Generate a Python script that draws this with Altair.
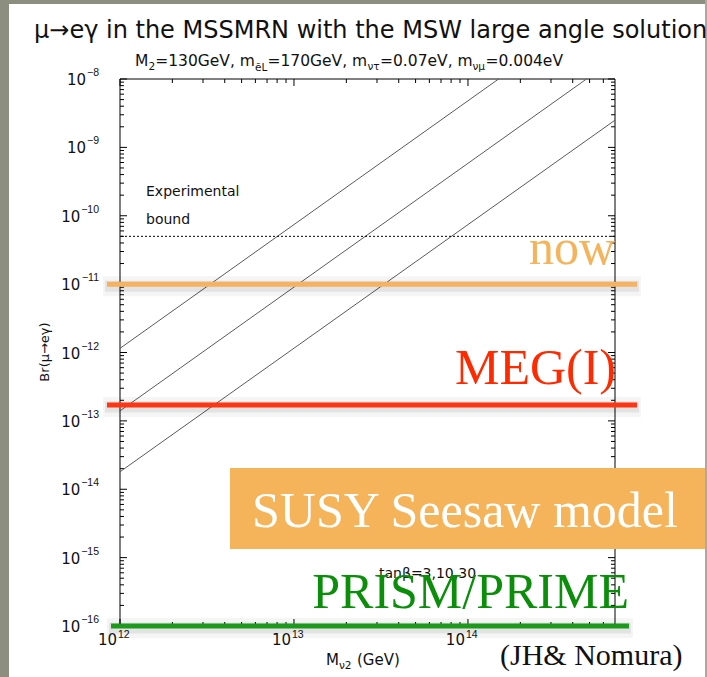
import altair as alt
import pandas as pd

W, H = 495, 547
SANS = "DejaVu Sans"
EXP_FONT = "Liberation Sans"
SERIF = "Liberation Serif"

# Br(mu -> e gamma) versus M_nu2, one straight log-log line per tan(beta)
curve_names = ["tanβ=30", "tanβ=10", "tanβ=3"]
curve_m_start = [1e12, 1e12, 1e12]
curve_br_start = [1.15e-12, 1.4e-13, 1.8e-14]
curve_m_end = [1.5e14, 4.8e14, 7e14]
curve_br_end = [1e-8, 1e-8, 2.5e-9]

# experimental bound (dotted) and sensitivity levels (thick coloured lines)
exp_bound = [5e-11]
limit_names = ["now", "MEG(I)", "PRISM/PRIME"]
limit_values = [1e-11, 1.7e-13, 1e-16]
limit_colors = ["#f4b262", "#ff3614", "#1d9a1d"]
limit_text_colors = ["#f5b35c", "#ff2a00", "#0b8f0b"]

# axes
x_domain = [1e12, 7e14]
y_domain = [1e-16, 1e-8]
x_major = [1e12, 1e13, 1e14]
x_major_exp = ["12", "13", "14"]
x_minor = [k * 1e12 for k in range(2, 10)] + [k * 1e13 for k in range(2, 10)] + [k * 1e14 for k in range(2, 7)]
y_major = [1e-16, 1e-15, 1e-14, 1e-13, 1e-12, 1e-11, 1e-10, 1e-9, 1e-8]
y_major_exp = ["−16", "−15", "−14", "−13", "−12", "−11", "−10", "−9", "−8"]
y_minor = [k * 10.0 ** e for e in range(-16, -8) for k in range(2, 10)]

xs = alt.Scale(type="log", domain=x_domain, nice=False)
ys = alt.Scale(type="log", domain=y_domain, nice=False)


def X(field):
    return alt.X(f"{field}:Q", scale=xs, axis=None)


def Y(field):
    return alt.Y(f"{field}:Q", scale=ys, axis=None)


one = pd.DataFrame({"a": [0]})

# ---- slide background
bg_gray = "#8c8f80"
left_strip = alt.Chart(one).mark_rect(color=bg_gray).encode(
    x=alt.value(-120), x2=alt.value(-111), y=alt.value(-79), y2=alt.value(598))
top_strip = alt.Chart(one).mark_rect(color=bg_gray).encode(
    x=alt.value(-120), x2=alt.value(587), y=alt.value(-79), y2=alt.value(-75))
right_strip = alt.Chart(one).mark_rect(color="#a9aba0").encode(
    x=alt.value(585), x2=alt.value(587), y=alt.value(-79), y2=alt.value(598))

# ---- titles
title = alt.Chart(one).mark_text(
    text="μ→eγ in the MSSMRN with the MSW large angle solution",
    font=SANS, fontSize=24, align="left", baseline="alphabetic", color="#111").encode(
    x=alt.value(-86), y=alt.value(-41))


def piece(txt, x, y, size):
    return alt.Chart(one).mark_text(
        text=txt, font=SANS, fontSize=size, align="left", baseline="alphabetic",
        color="#111").encode(x=alt.value(x), y=alt.value(y))


sub_y, main_y = -9, -13
subtitle = [
    piece("M", 15, main_y, 15.5), piece("2", 28.4, sub_y, 10.5),
    piece("=130GeV, m", 35.2, main_y, 15.5), piece("ẽL", 135, sub_y + 1, 10.5),
    piece("=170GeV, m", 147.5, main_y, 15.5), piece("ντ", 247.5, sub_y, 10.5),
    piece("=0.07eV, m", 260, main_y, 15.5), piece("νμ", 352.5, sub_y, 10.5),
    piece("=0.004eV", 365.5, main_y, 15.5),
]

x_title = [
    piece("M", 206, 586, 15), piece("ν2", 219, 590, 10.5), piece("(GeV)", 237, 586, 15),
]
y_title = alt.Chart(one).mark_text(
    text="Br(μ→eγ)", font=SANS, fontSize=13, angle=270, align="center",
    baseline="middle", color="#111").encode(x=alt.value(-75), y=alt.value(273))

# ---- frame and inward ticks
frame = [
    alt.Chart(one).mark_rule(color="#000", strokeWidth=1).encode(
        x=alt.value(0), x2=alt.value(W), y=alt.value(0)),
    alt.Chart(one).mark_rule(color="#000", strokeWidth=1).encode(
        x=alt.value(0), x2=alt.value(W), y=alt.value(H)),
    alt.Chart(one).mark_rule(color="#000", strokeWidth=1).encode(
        x=alt.value(0), y=alt.value(0), y2=alt.value(H)),
    alt.Chart(one).mark_rule(color="#000", strokeWidth=1).encode(
        x=alt.value(W), y=alt.value(0), y2=alt.value(H)),
]

ym = pd.DataFrame({"y": y_major, "exp": y_major_exp})
yn = pd.DataFrame({"y": y_minor})
xm = pd.DataFrame({"x": x_major, "exp": x_major_exp})
xn = pd.DataFrame({"x": x_minor})

ticks = []
for df, ln in [(ym, 7), (yn, 4)]:
    ticks.append(alt.Chart(df).mark_rule(color="#000", strokeWidth=1).encode(
        y=Y("y"), x=alt.value(0), x2=alt.value(ln)))
    ticks.append(alt.Chart(df).mark_rule(color="#000", strokeWidth=1).encode(
        y=Y("y"), x=alt.value(W), x2=alt.value(W - ln)))
for df, ln in [(xm, 7), (xn, 4)]:
    ticks.append(alt.Chart(df).mark_rule(color="#000", strokeWidth=1).encode(
        x=X("x"), y=alt.value(H), y2=alt.value(H - ln)))
    ticks.append(alt.Chart(df).mark_rule(color="#000", strokeWidth=1).encode(
        x=X("x"), y=alt.value(0), y2=alt.value(ln)))

# y tick labels: "10" plus a raised exponent, the pair right-aligned
y_exp = alt.Chart(ym).mark_text(
    font=EXP_FONT, fontSize=10.5, align="right", baseline="middle", color="#111", dy=-6).encode(
    y=Y("y"), x=alt.value(-21), text="exp:N")
y_base = alt.Chart(ym).transform_calculate(
    px="-22 - 6.1 - 5.8 * (length(datum.exp) - 1)", base="'10'").mark_text(
    font=SANS, fontSize=15, align="right", baseline="middle", color="#111", dy=1).encode(
    y=Y("y"), x=alt.X("px:Q", scale=None, axis=None), text="base:N")

# x tick labels
x_base = alt.Chart(xm).transform_calculate(base="'10'").mark_text(
    font=SANS, fontSize=15, align="right", baseline="alphabetic", color="#111", dx=-3).encode(
    x=X("x"), y=alt.value(566), text="base:N")
x_exp = alt.Chart(xm).mark_text(
    font=EXP_FONT, fontSize=10.5, align="left", baseline="alphabetic", color="#111", dx=-2).encode(
    x=X("x"), y=alt.value(559), text="exp:N")

# ---- model curves
curves = pd.DataFrame({
    "series": curve_names * 2,
    "m": curve_m_start + curve_m_end,
    "br": curve_br_start + curve_br_end,
})
curve_lines = alt.Chart(curves).mark_line(color="#5a5a5a", strokeWidth=1).encode(
    x=X("m"), y=Y("br"), detail="series:N")

bound = alt.Chart(pd.DataFrame({"y": exp_bound})).mark_rule(
    color="#000", strokeWidth=1, strokeDash=[2, 2]).encode(y=Y("y"))
bound_text = [
    alt.Chart(one).mark_text(text="Experimental", font=SANS, fontSize=14, align="left",
                             baseline="alphabetic", color="#111").encode(
        x=alt.value(26), y=alt.value(117)),
    alt.Chart(one).mark_text(text="bound", font=SANS, fontSize=14, align="left",
                             baseline="alphabetic", color="#111").encode(
        x=alt.value(26), y=alt.value(145)),
]
tanb_text = alt.Chart(one).mark_text(
    text="tanβ=3,10,30", font=SANS, fontSize=14, align="left", baseline="alphabetic",
    color="#111").encode(x=alt.value(259), y=alt.value(499))

# ---- sensitivity lines with soft shadow
lim = pd.DataFrame({"name": limit_names, "v": limit_values})
lim_upper = lim.iloc[:2]
lim_lower = lim.iloc[2:]
cscale = alt.Scale(domain=limit_names, range=limit_colors)

limit_layers = []
for df, x0, x1 in [(lim_upper, -13, 517), (lim_lower, -9, 509)]:
    limit_layers.append(alt.Chart(df).mark_rule(
        color="#000", opacity=0.04, strokeWidth=20, yOffset=2).encode(
        y=Y("v"), x=alt.value(x0 - 4), x2=alt.value(x1 + 4)))
    limit_layers.append(alt.Chart(df).mark_rule(
        color="#000", opacity=0.07, strokeWidth=11, yOffset=2).encode(
        y=Y("v"), x=alt.value(x0 - 2), x2=alt.value(x1 + 2)))
    limit_layers.append(alt.Chart(df).mark_rule(strokeWidth=5).encode(
        y=Y("v"), x=alt.value(x0), x2=alt.value(x1),
        color=alt.Color("name:N", scale=cscale, legend=None)))

limit_labels = []
for i, (dx, dy) in enumerate([(495, -20), (496, -21), (509, -18)]):
    limit_labels.append(alt.Chart(lim.iloc[[i]]).mark_text(
        font=SERIF, fontSize=50, align="right", baseline="alphabetic",
        color=limit_text_colors[i], dy=dy).encode(
        y=Y("v"), x=alt.value(dx), text="name:N"))

# ---- model box and credit
box = alt.Chart(one).mark_rect(color="#f5b35a").encode(
    x=alt.value(110), x2=alt.value(585), y=alt.value(389), y2=alt.value(470))
box_text = alt.Chart(one).mark_text(
    text="SUSY Seesaw model", font=SERIF, fontSize=50, align="left",
    baseline="alphabetic", color="#ffffff").encode(x=alt.value(132), y=alt.value(448))
credit = alt.Chart(one).mark_text(
    text="(JH& Nomura)", font=SERIF, fontSize=30, align="left",
    baseline="alphabetic", color="#111").encode(x=alt.value(380), y=alt.value(586))

layers = ([left_strip, top_strip, right_strip, title] + subtitle + x_title + [y_title]
          + frame + ticks + [y_exp, y_base, x_base, x_exp, curve_lines, bound] + bound_text
          + [tanb_text] + limit_layers + limit_labels + [box, box_text, credit])

chart = alt.layer(*layers).properties(
    width=W, height=H,
    padding={"left": 120, "top": 79, "right": 92, "bottom": 51},
    autosize="none",
    background="white",
).configure_view(stroke=None)

chart.save("out.html", embed_options={"renderer": "svg", "actions": False})
